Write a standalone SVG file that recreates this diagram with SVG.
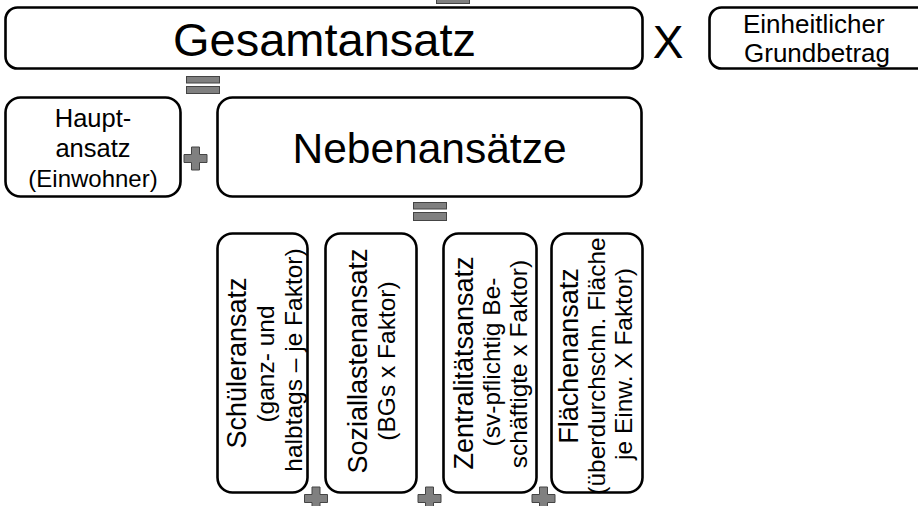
<svg xmlns="http://www.w3.org/2000/svg" width="918" height="506" viewBox="0 0 918 506">
<defs>
<style>
.box{fill:#fff;stroke:#000;stroke-width:2.6}
.t{font-family:"Liberation Sans",Arial,sans-serif;fill:#000;text-anchor:middle}
.op{fill:#808080;stroke:#444;stroke-width:1}
</style>
<path id="plus" d="M-4,-11.5 H4 V-4 H11.5 V4 H4 V11.5 H-4 V4 H-11.5 V-4 H-4 Z"/>
</defs>
<rect width="918" height="506" fill="#fff"/>
<g id="gesamtansatz">
<rect class="box" x="5.5" y="7.5" width="637" height="61" rx="12"/>
<text class="t" x="324.5" y="56" font-size="47">Gesamtansatz</text>
</g>
<g id="grundbetrag">
<rect class="box" x="709.5" y="7.5" width="240" height="61" rx="12"/>
<text class="t" x="743" y="33" font-size="26" style="text-anchor:start">Einheitlicher</text>
<text class="t" x="744" y="62" font-size="26" style="text-anchor:start">Grundbetrag</text>
</g>
<g id="hauptansatz">
<rect class="box" x="5.5" y="97.5" width="175" height="99" rx="15"/>
<text class="t" x="93" y="127" font-size="25.5">Haupt-</text>
<text class="t" x="93" y="157" font-size="25.5">ansatz</text>
<text class="t" x="93" y="187" font-size="24">(Einwohner)</text>
</g>
<g id="nebenansaetze">
<rect class="box" x="217.5" y="97.5" width="424" height="99" rx="15"/>
<text class="t" x="429.5" y="163" font-size="42.5">Nebenansätze</text>
</g>
<g id="schueleransatz">
<rect class="box" x="217.5" y="233.5" width="90" height="259" rx="15"/>
<text class="t" transform="translate(246,363) rotate(-90)" font-size="27">Schüleransatz</text>
<text class="t" transform="translate(274,364) rotate(-90)" font-size="24.5">(ganz- und</text>
<text class="t" transform="translate(302,360) rotate(-90)" font-size="24.5">halbtags – je Faktor)</text>
</g>
<g id="soziallastenansatz">
<rect class="box" x="325.5" y="233.5" width="91" height="259" rx="15"/>
<text class="t" transform="translate(367,361) rotate(-90)" font-size="27">Soziallastenansatz</text>
<text class="t" transform="translate(395,361) rotate(-90)" font-size="24.5">(BGs x Faktor)</text>
</g>
<g id="zentralitaetsansatz">
<rect class="box" x="443.5" y="233.5" width="93" height="259" rx="15"/>
<text class="t" transform="translate(473,363) rotate(-90)" font-size="27">Zentralitätsansatz</text>
<text class="t" transform="translate(500,362) rotate(-90)" font-size="24.5">(sv-pflichtig Be-</text>
<text class="t" transform="translate(527,364) rotate(-90)" font-size="24.5">schäftigte x Faktor)</text>
</g>
<g id="flaechenansatz">
<rect class="box" x="551.5" y="233.5" width="91" height="259" rx="15"/>
<text class="t" transform="translate(578,356) rotate(-90)" font-size="27">Flächenansatz</text>
<text class="t" transform="translate(605,366) rotate(-90)" font-size="24.5">(überdurchschn. Fläche</text>
<text class="t" transform="translate(632,364) rotate(-90)" font-size="24.5">je Einw. X Faktor)</text>
</g>
<g id="connectors">
<rect class="op" x="436.5" y="-5" width="33" height="8.5"/>
<rect class="op" x="186.5" y="76.5" width="33" height="6.5"/>
<rect class="op" x="186.5" y="86.5" width="33" height="7"/>
<rect class="op" x="413.5" y="202.5" width="33" height="6.5"/>
<rect class="op" x="413.5" y="212.5" width="33" height="8"/>
<text class="t" x="668" y="58" font-size="46">X</text>
<use href="#plus" class="op" x="195.5" y="158.5"/>
<use href="#plus" class="op" x="316" y="498.5"/>
<use href="#plus" class="op" x="429.5" y="498.5"/>
<use href="#plus" class="op" x="543.5" y="498.5"/>
</g>
</svg>
